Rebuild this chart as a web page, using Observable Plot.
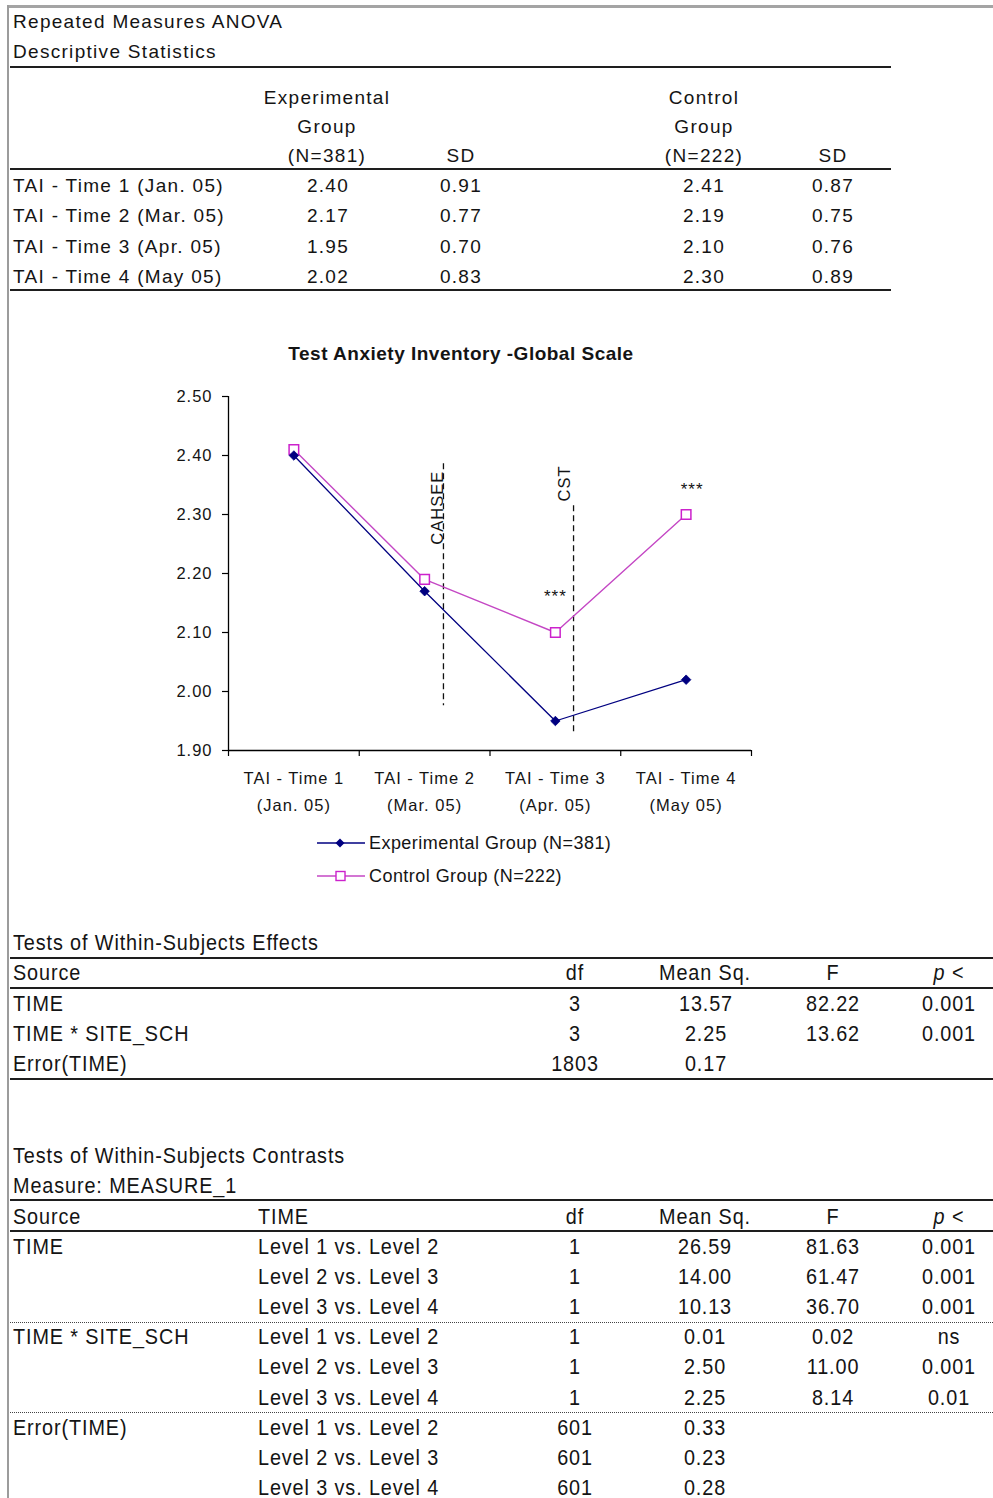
<!DOCTYPE html>
<html>
<head>
<meta charset="utf-8">
<script src="https://cdn.jsdelivr.net/npm/d3@7"></script>
<script src="https://cdn.jsdelivr.net/npm/@observablehq/plot@0.6"></script>
<style>
  html, body { margin: 0; padding: 0; background: #fff; }
  #page { position: relative; width: 993px; height: 1498px; overflow: hidden;
          font-family: "Liberation Sans", Arial, sans-serif; color: #141414; }
  .t { position: absolute; white-space: nowrap; height: 20px; line-height: 20px; }
  .top { font-size: 19px; letter-spacing: 1.3px; }
  .low { font-size: 22px; letter-spacing: 1px; }
  .low span { display: inline-block; transform: scaleX(0.9); }
  .low.l span { transform-origin: left center; }
  .low.c span { transform-origin: center center; }
  .hr { position: absolute; height: 2px; background: #1e1e1e; }
  .dotted { position: absolute; height: 0; border-top: 1px dotted #444; }
  .frame-top { position: absolute; left: 7px; top: 5px; width: 986px; height: 3px; background: #a4a4a4; }
  .frame-left { position: absolute; left: 7px; top: 5px; width: 2px; height: 1493px; background: #9c9c9c; }
  .chart-title { position: absolute; left: 461px; top: 343px; transform: translateX(-50%);
                 font-weight: bold; font-size: 19px; letter-spacing: 0.5px; white-space: nowrap; }
  .legend { position: absolute; left: 317px; font-size: 18px; letter-spacing: 0.45px;
            display: flex; align-items: center; height: 30px; white-space: nowrap; }
  .legend svg { margin-right: 4px; }
  #chart { position: absolute; left: 0; top: 370px; }
</style>
</head>
<body>
<div id="page"></div>
<script>
// ---------- Descriptive statistics ----------
const times = ["TAI - Time 1 (Jan. 05)", "TAI - Time 2 (Mar. 05)", "TAI - Time 3 (Apr. 05)", "TAI - Time 4 (May 05)"];
const axisLabels = ["TAI - Time 1\n(Jan. 05)", "TAI - Time 2\n(Mar. 05)", "TAI - Time 3\n(Apr. 05)", "TAI - Time 4\n(May 05)"];
const expName = "Experimental Group (N=381)";
const ctlName = "Control Group (N=222)";
const expMean = [2.40, 2.17, 1.95, 2.02];
const expSD   = [0.91, 0.77, 0.70, 0.83];
const ctlMean = [2.41, 2.19, 2.10, 2.30];
const ctlSD   = [0.87, 0.75, 0.76, 0.89];

// ---------- Chart annotations ----------
const yTicks = [1.9, 2.0, 2.1, 2.2, 2.3, 2.4, 2.5];
const xBounds = [0.5, 1.5, 2.5, 3.5, 4.5];
const events = ["CAHSEE", "CST"];
const eventX = [2.144, 3.139];
const eventTop = [2.386, 2.315];
const eventBottom = [1.976, 1.929];
const eventLabelTop = [2.374, 2.383];
const eventLabelDx = [-6, -9];
const sigX = [3, 4];
const sigY = [2.161, 2.342];
const sigDx = [0, 6];
const sigText = ["***", "***"];

// ---------- Tests of within-subjects effects ----------
const effSource = ["TIME", "TIME * SITE_SCH", "Error(TIME)"];
const effDf = ["3", "3", "1803"];
const effMS = ["13.57", "2.25", "0.17"];
const effF  = ["82.22", "13.62", ""];
const effP  = ["0.001", "0.001", ""];

// ---------- Tests of within-subjects contrasts ----------
const conSource = ["TIME", "TIME * SITE_SCH", "Error(TIME)"];
const conLevels = ["Level 1 vs. Level 2", "Level 2 vs. Level 3", "Level 3 vs. Level 4"];
const conDf = [["1", "1", "1"], ["1", "1", "1"], ["601", "601", "601"]];
const conMS = [["26.59", "14.00", "10.13"], ["0.01", "2.50", "2.25"], ["0.33", "0.23", "0.28"]];
const conF  = [["81.63", "61.47", "36.70"], ["0.02", "11.00", "8.14"], ["", "", ""]];
const conP  = [["0.001", "0.001", "0.001"], ["ns", "0.001", "0.01"], ["", "", ""]];

const page = document.getElementById("page");

// Places one cell of text, vertically centred on yc
function add(html, cls, x, yc, align) {
  const d = document.createElement("div");
  d.className = "t " + cls + " " + (align === "center" ? "c" : "l");
  d.style.left = x + "px";
  d.style.top = (yc - 10) + "px";
  if (align === "center") d.style.transform = "translateX(-50%)";
  d.innerHTML = cls.includes("low") ? "<span>" + html + "</span>" : html;
  page.appendChild(d);
  return d;
}
function hr(x, y, w, cls) {
  const d = document.createElement("div");
  d.className = cls || "hr";
  d.style.left = x + "px"; d.style.top = y + "px"; d.style.width = w + "px";
  page.appendChild(d);
}
page.insertAdjacentHTML("beforeend", '<div class="frame-top"></div><div class="frame-left"></div>');

// Descriptive statistics block
add("Repeated Measures ANOVA", "top", 13, 22, "left");
add("Descriptive Statistics", "top", 13, 52, "left");
hr(10, 66, 881);
add("Experimental", "top", 327, 98, "center");
add("Group", "top", 327, 127, "center");
add("(N=381)", "top", 327, 156, "center");
add("SD", "top", 461, 156, "center");
add("Control", "top", 704, 98, "center");
add("Group", "top", 704, 127, "center");
add("(N=222)", "top", 704, 156, "center");
add("SD", "top", 833, 156, "center");
hr(10, 168, 881);
times.forEach((t, i) => {
  const yc = 186 + i * 30.3;
  add(t, "top", 13, yc, "left");
  add(expMean[i].toFixed(2), "top", 328, yc, "center");
  add(expSD[i].toFixed(2), "top", 461, yc, "center");
  add(ctlMean[i].toFixed(2), "top", 704, yc, "center");
  add(ctlSD[i].toFixed(2), "top", 833, yc, "center");
});
hr(10, 289, 881);

// Chart title
page.insertAdjacentHTML("beforeend", '<div class="chart-title">Test Anxiety Inventory -Global Scale</div>');

// Line chart of group means
const navy = "#000080";
const pink = "#c447c4";
const diamond = {
  draw(context, size) {
    const r = Math.sqrt(size / 2);
    context.moveTo(0, -r); context.lineTo(r, 0); context.lineTo(0, r); context.lineTo(-r, 0); context.closePath();
  }
};
const expData = expMean.map((v, i) => ({t: i + 1, v}));
const ctlData = ctlMean.map((v, i) => ({t: i + 1, v}));
const evData = events.map((e, i) => ({e, x: eventX[i], y1: eventTop[i], y2: eventBottom[i], ly: eventLabelTop[i]}));
const sigData = sigText.map((s, i) => ({s, x: sigX[i], y: sigY[i]}));

const chart = Plot.plot({
  width: 993,
  height: 460,
  marginLeft: 228,
  marginRight: 242,
  marginTop: 26,
  marginBottom: 80,
  style: {fontFamily: '"Liberation Sans", Arial, sans-serif', color: "#141414", background: "transparent", letterSpacing: "1px"},
  x: {domain: [0.5, 4.5], axis: null},
  y: {domain: [1.9, 2.5], axis: null},
  marks: [
    Plot.axisY(yTicks, {tickSize: 6, tickPadding: 10, tickFormat: ".2f", fontSize: 16.5, stroke: "#000", strokeWidth: 1.2, fill: "#141414"}),
    Plot.axisX(xBounds, {tickSize: 6, tickFormat: () => "", stroke: "#000", strokeWidth: 1.2}),
    Plot.axisX([1, 2, 3, 4], {tickSize: 0, tickPadding: 14, tickFormat: d => axisLabels[d - 1], fontSize: 16.5, lineHeight: 1.65, fill: "#141414"}),
    Plot.ruleX([0.5], {stroke: "#000", strokeWidth: 1.3}),
    Plot.ruleY([1.9], {stroke: "#000", strokeWidth: 1.3}),
    Plot.ruleX(evData, {x: "x", y1: "y1", y2: "y2", stroke: "#111", strokeWidth: 1.3, strokeDasharray: "6,4"}),
    // one text mark per event so each label sits just left of its own dashed line
    ...evData.map((d, i) => Plot.text([d], {x: "x", y: "ly", text: "e", rotate: -90, textAnchor: "end", lineAnchor: "middle",
      dx: eventLabelDx[i], fontSize: 16.5, fill: "#141414"})),
    Plot.line(ctlData, {x: "t", y: "v", stroke: pink, strokeWidth: 1.4}),
    Plot.line(expData, {x: "t", y: "v", stroke: navy, strokeWidth: 1.3}),
    Plot.dot(ctlData, {x: "t", y: "v", symbol: "square", r: 5.4, stroke: "#cc22cc", strokeWidth: 1.5, fill: "#fff"}),
    Plot.dot(expData, {x: "t", y: "v", symbol: diamond, r: 3.8, fill: navy, stroke: navy, strokeWidth: 0.8}),
    ...sigData.map((d, i) => Plot.text([d], {x: "x", y: "y", text: "s", dx: sigDx[i], fontSize: 17, fill: "#141414"}))
  ]
});
chart.id = "chart";
page.appendChild(chart);

// Legend
function legendRow(name, y, sym) {
  const d = document.createElement("div");
  d.className = "legend";
  d.style.top = (y - 15) + "px";
  d.innerHTML = `<svg width="48" height="14" viewBox="0 0 48 14">${sym}</svg><span>${name}</span>`;
  page.appendChild(d);
}
legendRow(expName, 843, `<line x1="0" y1="7" x2="48" y2="7" stroke="${navy}" stroke-width="1.4"/><path d="M23,2.5L27.5,7L23,11.5L18.5,7Z" fill="${navy}"/>`);
legendRow(ctlName, 876, `<line x1="0" y1="7" x2="48" y2="7" stroke="${pink}" stroke-width="1.4"/><rect x="19" y="2.5" width="9" height="9" fill="#fff" stroke="#cc22cc" stroke-width="1.4"/>`);

// Tests of Within-Subjects Effects
add("Tests of Within-Subjects Effects", "low", 13, 943, "left");
hr(10, 957, 983);
add("Source", "low", 13, 973, "left");
add("df", "low", 575, 973, "center");
add("Mean Sq.", "low", 705, 973, "center");
add("F", "low", 833, 973, "center");
add("<i>p</i> &lt;", "low", 949, 973, "center");
hr(10, 987, 983);
effSource.forEach((s, i) => {
  const yc = 1004 + i * 30;
  add(s, "low", 13, yc, "left");
  add(effDf[i], "low", 575, yc, "center");
  add(effMS[i], "low", 706, yc, "center");
  add(effF[i], "low", 833, yc, "center");
  add(effP[i], "low", 949, yc, "center");
});
hr(10, 1078, 983);

// Tests of Within-Subjects Contrasts
add("Tests of Within-Subjects Contrasts", "low", 13, 1156, "left");
add("Measure: MEASURE_1", "low", 13, 1186, "left");
hr(10, 1199, 983);
add("Source", "low", 13, 1217, "left");
add("TIME", "low", 258, 1217, "left");
add("df", "low", 575, 1217, "center");
add("Mean Sq.", "low", 705, 1217, "center");
add("F", "low", 833, 1217, "center");
add("<i>p</i> &lt;", "low", 949, 1217, "center");
hr(10, 1230, 983);
conSource.forEach((s, g) => {
  const base = 1247 + g * 90.3;
  add(s, "low", 13, base, "left");
  conLevels.forEach((lv, i) => {
    const yc = base + i * 30.1;
    add(lv, "low", 258, yc, "left");
    add(conDf[g][i], "low", 575, yc, "center");
    add(conMS[g][i], "low", 705, yc, "center");
    add(conF[g][i], "low", 833, yc, "center");
    add(conP[g][i], "low", 949, yc, "center");
  });
  if (g < conSource.length - 1) hr(10, base + 75, 983, "dotted");
});
</script>
</body>
</html>
